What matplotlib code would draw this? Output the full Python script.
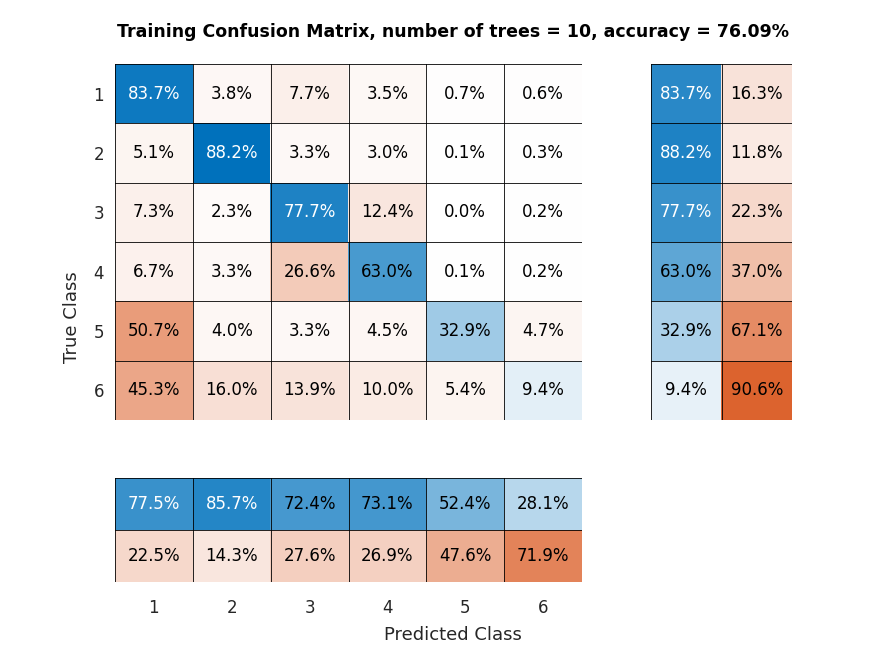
import numpy as np
import matplotlib
matplotlib.use("Agg")
import matplotlib.pyplot as plt

classes = ["1", "2", "3", "4", "5", "6"]
cm = np.array([
    [83.7, 3.8, 7.7, 3.5, 0.7, 0.6],
    [5.1, 88.2, 3.3, 3.0, 0.1, 0.3],
    [7.3, 2.3, 77.7, 12.4, 0.0, 0.2],
    [6.7, 3.3, 26.6, 63.0, 0.1, 0.2],
    [50.7, 4.0, 3.3, 4.5, 32.9, 4.7],
    [45.3, 16.0, 13.9, 10.0, 5.4, 9.4],
])
row_correct = [83.7, 88.2, 77.7, 63.0, 32.9, 9.4]
row_wrong = [16.3, 11.8, 22.3, 37.0, 67.1, 90.6]
col_correct = [77.5, 85.7, 72.4, 73.1, 52.4, 28.1]
col_wrong = [22.5, 14.3, 27.6, 26.9, 47.6, 71.9]

BLUE = np.array([0, 0.447, 0.741])
ORANGE = np.array([0.85, 0.325, 0.098])

def col(base, a):
    return 1 - a * (1 - base)

W, H = 875, 656
fig = plt.figure(figsize=(W / 100, H / 100), dpi=100)

def axp(x0, y0, x1, y1):
    return fig.add_axes([x0 / W, 1 - y1 / H, (x1 - x0) / W, (y1 - y0) / H])

def draw(ax, vals, blues, scale):
    nr, nc = vals.shape
    img = np.zeros((nr, nc, 3))
    for i in range(nr):
        for j in range(nc):
            base = BLUE if blues[i, j] else ORANGE
            img[i, j] = col(base, min(vals[i, j] / scale, 1))
            tc = "white" if (blues[i, j] and vals[i, j] > 75) else "black"
            ax.text(j, i, f"{vals[i, j]:.1f}%", ha="center", va="center",
                    fontsize=12, color=tc)
    ax.imshow(img, aspect="auto", interpolation="nearest")
    for k in range(nc + 1):
        ax.axvline(k - 0.5, color="black", lw=0.6)
    for k in range(nr + 1):
        ax.axhline(k - 0.5, color="black", lw=0.6)
    ax.set_xlim(-0.5, nc - 0.5)
    ax.set_ylim(nr - 0.5, -0.5)
    ax.set_xticks([]); ax.set_yticks([])
    for s in ax.spines.values():
        s.set_visible(False)

ax = axp(115, 64, 582, 420)
draw(ax, cm, np.eye(6, dtype=bool), 88.2)
ax.set_yticks(range(6))
ax.set_yticklabels(classes, fontsize=12, color="#262626")
ax.tick_params(length=0, pad=8)

axr = axp(651, 64, 792, 420)
rv = np.array([row_correct, row_wrong]).T
rb = np.zeros_like(rv, dtype=bool); rb[:, 0] = True
draw(axr, rv, rb, 100)

axb = axp(115, 478, 582, 582)
bv = np.array([col_correct, col_wrong])
bb = np.zeros_like(bv, dtype=bool); bb[0, :] = True
draw(axb, bv, bb, 100)
axb.set_xticks(range(6))
axb.set_xticklabels(classes, fontsize=12, color="#262626")
axb.tick_params(length=0, pad=12)

fig.text(453 / W, 1 - 32 / H, "Training Confusion Matrix, number of trees = 10, accuracy = 76.09%",
         ha="center", va="center", fontsize=12.5, fontweight="bold")
fig.text(72 / W, 1 - 317 / H, "True Class", rotation=90, ha="center", va="center",
         fontsize=13, color="#262626")
fig.text(453 / W, 1 - 635 / H, "Predicted Class", ha="center", va="center",
         fontsize=13, color="#262626")
fig.savefig("out.png", dpi=100)
